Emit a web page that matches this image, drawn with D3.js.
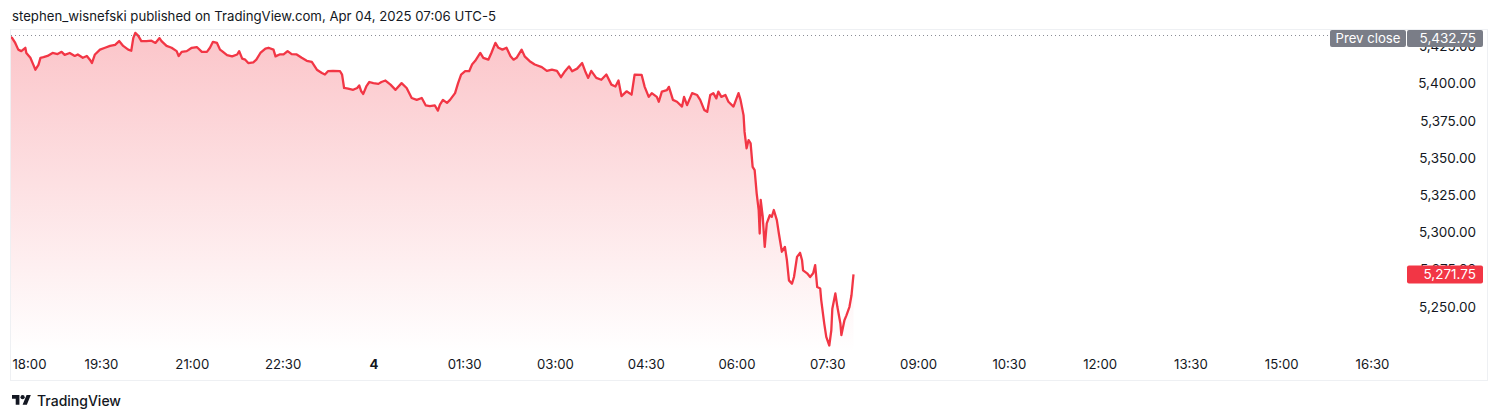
<!DOCTYPE html>
<html><head><meta charset="utf-8">
<script src="https://cdn.jsdelivr.net/npm/d3@7"></script>
<style>
html,body{margin:0;padding:0;background:#fff;}
svg{display:block;font-family:Inter,"Noto Sans",sans-serif;}
</style></head><body>
<svg id="chart" width="1500" height="420"></svg>
<script>
const titleText = "stephen_wisnefski published on TradingView.com, Apr 04, 2025 07:06 UTC-5";
const brandText = "TradingView";

// minutes since 2025-04-03 18:00
const minutes = [
  0,2,5,8,11,15,16,20,23,25,
  28,30,33,37,42,47,51,54,59,64,
  67,72,76,79,81,84,89,94,99,104,
  108,112,117,120,122,124,127,130,135,140,
  144,148,150,155,160,165,167,170,175,180,
  185,190,195,198,201,205,208,210,215,220,
  225,227,230,233,236,241,244,248,253,256,
  261,263,267,271,275,279,284,289,294,299,
  304,309,312,315,320,327,329,331,335,340,
  344,346,348,350,353,356,360,365,368,372,
  377,382,388,393,398,403,408,412,416,421,
  424,426,429,433,436,441,444,447,451,455,
  458,461,466,469,474,477,481,484,488,492,
  496,499,502,507,510,515,520,527,532,537,
  542,546,550,554,557,562,567,570,573,576,
  581,586,591,596,600,603,606,611,616,619,
  626,629,633,636,641,643,646,651,653,657,
  661,666,668,671,676,681,684,688,691,694,
  697,700,702,705,709,712,717,722,724,727,
  728,730,732,734,736,738,740,742,743,744,
  746,748,750,753,755,757,760,762,765,768,
  770,772,775,777,780,783,785,786,790,793,
  796,798,800,803,804,807,809,812,814,815,
  818,820,823,824,827,829,832,834,836
];
const prices = [
  5431.25,5430.5,5427.25,5422.75,5421.75,5424,5420.5,5417.25,5412.5,5409.25,
  5412.5,5417.25,5417.75,5418.5,5420.5,5419.75,5421.25,5419.25,5420.5,5418.5,
  5419.5,5417.25,5418.5,5416,5413.75,5419.5,5422.75,5424,5425.25,5426,
  5428.5,5425.25,5422.75,5422,5430.5,5434,5432,5428.5,5428.5,5428.75,
  5427.25,5430.5,5428.5,5425.25,5424,5421.75,5418.5,5421.25,5421.75,5424,
  5424.5,5421.25,5421.25,5424,5428,5427.25,5422.75,5421.75,5419,5418.25,
  5419.5,5421.75,5416.75,5416,5413.75,5414.25,5416,5420.5,5423.5,5424,
  5422.75,5418.25,5419.5,5419.5,5421.75,5419.75,5419.5,5417.25,5415.25,5414.5,
  5409.25,5407,5406,5408.25,5408.5,5408.25,5406,5397,5396.5,5395.75,
  5397,5398.75,5394.75,5393,5398,5401,5400.25,5399.75,5401,5402,
  5399.25,5395.75,5400.25,5397,5390.25,5389,5390.25,5385.25,5384.75,5385.25,
  5381.75,5385.75,5389,5387,5389,5393.5,5400.25,5406,5408.25,5408.25,
  5413,5415.25,5420.5,5417.25,5416,5420.5,5427.25,5424,5422.75,5424,
  5418.25,5416,5417.25,5422.75,5418.25,5415,5412.75,5411,5408.5,5409.25,
  5408.5,5404.25,5408.25,5411.5,5408.25,5410,5413.75,5408.25,5403.75,5408.5,
  5403.75,5402.5,5406,5399.25,5398,5402,5391.5,5394.75,5392.5,5406,
  5405.75,5397.75,5391,5393.5,5391,5387.75,5394.5,5395.5,5397.75,5389,
  5387.75,5384.5,5391,5385.5,5393.5,5392.25,5389,5382.25,5381,5392.25,
  5393.5,5390,5394.5,5391,5392.25,5387.75,5384.5,5393.5,5389,5378.75,
  5367.5,5356.5,5362,5359.75,5344,5341.75,5326.25,5315,5299.25,5321.75,
  5310.5,5290.25,5306,5311.5,5310.5,5315,5308.25,5299.25,5287,5290.25,
  5281.25,5267.75,5265.5,5270,5283.5,5286.25,5281.25,5274.5,5272.5,5270,
  5272.5,5278,5263.25,5262.25,5254.5,5238.75,5229.75,5224,5234.25,5248.75,
  5259,5250,5238.75,5231,5241,5244.25,5250,5257.75,5271.75
];
const prevClose = 5432.75;
const prevCloseLabel = "Prev close";
const lastPrice = 5271.75;
const priceTicks = [5250,5275,5300,5325,5350,5375,5400,5425];
const timeTickMinutes = [0,90,180,270,360,450,540,630,720,810,900,990,1080,1170,1260,1350];
const timeTickLabels = ["18:00","19:30","21:00","22:30","4","01:30","03:00","04:30","06:00","07:30","09:00","10:30","12:00","13:30","15:00","16:30"];

const base = new Date(2025, 3, 3, 18, 0);
const toDate = m => new Date(base.getTime() + m * 60000);
const data = minutes.map((m, i) => ({ t: toDate(m), v: prices[i] }));

const paneL = 10, paneT = 29, paneR = 1488, paneB = 381;
const plotR = 1405, plotB = 352;
const RED = "#f23645", TXT = "#131722", FONT = "Inter,'Noto Sans',sans-serif";

const svg = d3.select("#chart");
const x = d3.scaleTime().domain([toDate(0), toDate(1350)]).range([10.2, 1372]);
const y = d3.scaleLinear().domain([5250, 5400]).range([306.8, 83.5]);
const fmt = d3.format(",.2f");

// title
svg.append("text").attr("x", 12).attr("y", 21).attr("fill", TXT)
  .attr("font-size", 13.2).text(titleText);

// pane frame
svg.append("rect").attr("x", paneL + 0.5).attr("y", paneT + 0.5)
  .attr("width", paneR - paneL - 1).attr("height", paneB - paneT - 1)
  .attr("fill", "none").attr("stroke", "#eef0f3");

const defs = svg.append("defs");
defs.append("clipPath").attr("id", "plotclip").append("rect")
  .attr("x", paneL + 1).attr("y", paneT + 1).attr("width", plotR - paneL - 1).attr("height", plotB - paneT - 1);
const grad = defs.append("linearGradient").attr("id", "fillgrad")
  .attr("gradientUnits", "userSpaceOnUse").attr("x1", 0).attr("x2", 0)
  .attr("y1", y(d3.max(prices))).attr("y2", plotB);
grad.append("stop").attr("offset", 0).attr("stop-color", RED).attr("stop-opacity", 0.29);
grad.append("stop").attr("offset", 1).attr("stop-color", RED).attr("stop-opacity", 0.0);

const plot = svg.append("g").attr("clip-path", "url(#plotclip)");
plot.append("path").datum(data)
  .attr("d", d3.area().x(d => x(d.t)).y0(plotB).y1(d => y(d.v)))
  .attr("fill", "url(#fillgrad)");
plot.append("path").datum(data)
  .attr("d", d3.line().x(d => x(d.t)).y(d => y(d.v)))
  .attr("fill", "none").attr("stroke", RED).attr("stroke-width", 2.3)
  .attr("stroke-linejoin", "round");

// prev close dotted line
const boxW = 76;
svg.append("line").attr("x1", paneL + 1).attr("x2", 1330 - 2)
  .attr("y1", Math.round(y(prevClose)) + 0.5).attr("y2", Math.round(y(prevClose)) + 0.5)
  .attr("stroke", "#8a8d96").attr("stroke-width", 1).attr("stroke-dasharray", "1,3");

// price axis
const yAxis = d3.axisRight(y).tickValues(priceTicks).tickFormat(fmt).tickSize(0).tickPadding(0);
const ya = svg.append("g").attr("transform", "translate(1476,0)").call(yAxis);
ya.select(".domain").remove();
ya.selectAll("text").attr("text-anchor", "end").attr("fill", TXT).attr("font-size", 13.5)
  .attr("font-family", FONT);

// time axis
const xAxis = d3.axisBottom(x).tickValues(timeTickMinutes.map(toDate))
  .tickFormat((d, i) => timeTickLabels[i]).tickSize(0).tickPadding(0);
const xa = svg.append("g").attr("transform", "translate(0,362)").call(xAxis);
xa.select(".domain").remove();
xa.selectAll("text").attr("fill", TXT).attr("font-size", 13.2)
  .attr("font-family", FONT)
  .attr("dy", "0.55em")
  .attr("font-weight", (d, i) => timeTickLabels[i] === "4" ? 700 : 400);
xa.selectAll(".tick").filter((d, i) => i === 0).select("text")
  .attr("text-anchor", "start").attr("x", 12 - x(toDate(0)));

// prev close labels
const pcY = Math.max(paneT + 1, y(prevClose) - 8.5);
svg.append("rect").attr("x", 1330).attr("y", pcY).attr("width", 76).attr("height", 17)
  .attr("rx", 2).attr("fill", "#7a7d87");
svg.append("text").attr("x", 1368).attr("y", pcY + 8.5).attr("dy", "0.35em")
  .attr("text-anchor", "middle").attr("fill", "#fff").attr("font-size", 13.2).text(prevCloseLabel);
svg.append("rect").attr("x", 1407).attr("y", pcY).attr("width", boxW).attr("height", 17)
  .attr("rx", 2).attr("fill", "#7a7d87");
svg.append("text").attr("x", 1476).attr("y", pcY + 8.5).attr("dy", "0.35em")
  .attr("text-anchor", "end").attr("fill", "#fff").attr("font-size", 13.5).text(fmt(prevClose));

// last price label
const lpY = y(lastPrice);
svg.append("rect").attr("x", 1407).attr("y", lpY - 9).attr("width", boxW).attr("height", 18)
  .attr("rx", 2).attr("fill", RED);
svg.append("text").attr("x", 1476).attr("y", lpY).attr("dy", "0.35em")
  .attr("text-anchor", "end").attr("fill", "#fff").attr("font-size", 13.5).text(fmt(lastPrice));

// brand
const logo = svg.append("g").attr("transform", "translate(12,393) scale(0.53)").attr("fill", TXT);
logo.append("path").attr("d", "M14 22H7V11H0V4h14v18zM28 22h-8l7.5-18h8L28 22z");
logo.append("circle").attr("cx", 20).attr("cy", 8).attr("r", 4);
svg.append("text").attr("x", 37).attr("y", 406).attr("fill", TXT)
  .attr("font-size", 14).attr("font-weight", 500).text(brandText);
</script>
</body></html>
